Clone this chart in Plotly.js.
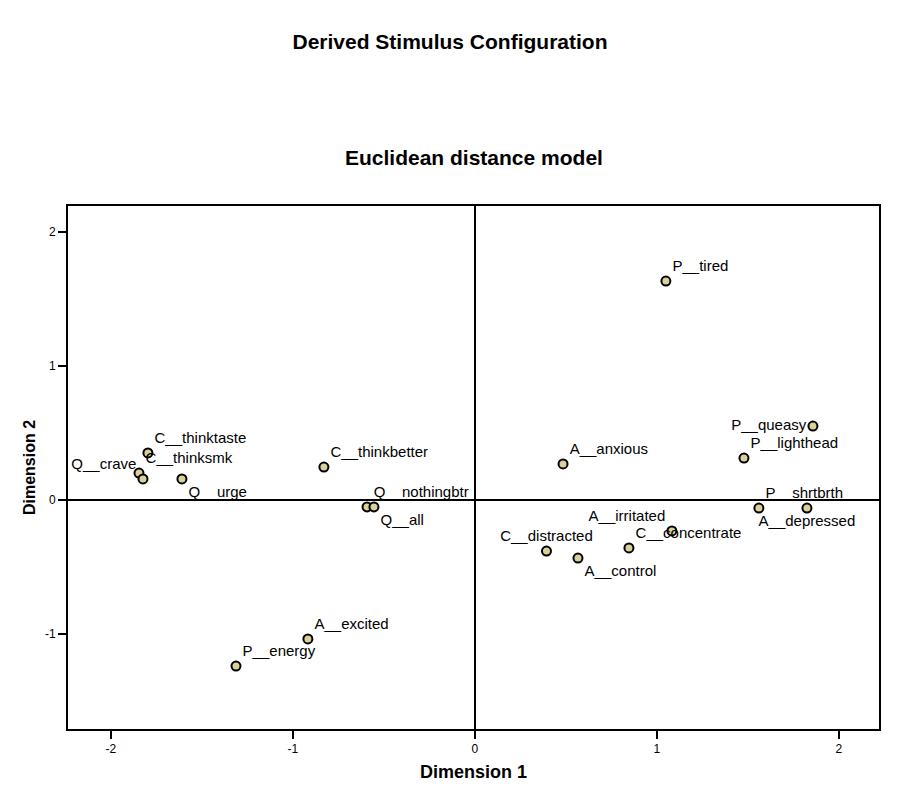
<!DOCTYPE html>
<html>
<head>
<meta charset="utf-8">
<script src="https://cdn.plot.ly/plotly-3.0.1.min.js"></script>
<style>html,body{margin:0;padding:0;background:#fff;}#chart{width:900px;height:792px;}</style>
</head>
<body>
<div id="chart"></div>
<script>
// Stimulus labels and coordinates (Dimension 1, Dimension 2)
var stimuli = ["P__tired","P__queasy","P__lighthead","A__anxious","P__shrtbrth","A__depressed",
  "A__irritated","C__concentrate","C__distracted","A__control","Q__nothingbtr","Q__all",
  "C__thinkbetter","C__thinktaste","C__thinksmk","Q__crave","Q__urge","A__excited","P__energy"];
var dim1 = [1.049, 1.857, 1.478, 0.484, 1.560, 1.824,
  1.082, 0.846, 0.393, 0.566, -0.593, -0.555,
  -0.830, -1.797, -1.846, -1.824, -1.610, -0.918, -1.313];
var dim2 = [1.634, 0.552, 0.313, 0.269, -0.060, -0.060,
  -0.231, -0.358, -0.381, -0.433, -0.052, -0.052,
  0.246, 0.351, 0.201, 0.157, 0.157, -1.037, -1.239];
// label placement relative to each point
var labelPlacement = ["top right","middle left","top right","top right","top right","bottom center",
  "top left","top right","top center","bottom right","top right","bottom right",
  "top right","top right","top right","top left","bottom right","top right","top right"];
var xTicks = [-2, -1, 0, 1, 2];
var yTicks = [-1, 0, 1, 2];

var trace = {
  x: dim1, y: dim2, text: stimuli,
  type: "scatter", mode: "markers+text",
  textposition: labelPlacement,
  textfont: {family: "Liberation Sans, Arial, sans-serif", size: 15, color: "#000"},
  marker: {size: 9, color: "#d9d09a", line: {color: "#000", width: 2}},
  cliponaxis: false, hoverinfo: "none", showlegend: false
};

var layout = {
  width: 900, height: 792,
  paper_bgcolor: "#fff", plot_bgcolor: "#fff",
  margin: {l: 68, r: 21, t: 206, b: 63},
  title: {text: "Derived Stimulus Configuration", x: 0.5, xanchor: "center",
          y: 1 - 42/792, yanchor: "middle", yref: "container",
          font: {family: "Liberation Sans, Arial, sans-serif", size: 21, color: "#000", weight: "bold"}},
  annotations: [{text: "<b>Euclidean distance model</b>", xref: "paper", yref: "paper",
    x: 0.5, y: (729 - 158) / 523, xanchor: "center", yanchor: "middle", showarrow: false,
    font: {family: "Liberation Sans, Arial, sans-serif", size: 21, color: "#000"}}],
  xaxis: {range: [-2.236, 2.22], tickvals: xTicks, ticktext: xTicks.map(String),
    ticks: "outside", ticklen: 8, tickwidth: 1.5, tickcolor: "#000",
    showgrid: false, zeroline: true, zerolinecolor: "#000", zerolinewidth: 2,
    showline: true, linecolor: "#000", linewidth: 2, mirror: true,
    tickfont: {family: "Liberation Sans Narrow, Arial Narrow, sans-serif", size: 12, color: "#000"},
    title: {text: "<b>Dimension 1</b>", standoff: 10,
      font: {family: "Liberation Sans, Arial, sans-serif", size: 18, color: "#000"}}},
  yaxis: {range: [-1.709, 2.194], tickvals: yTicks, ticktext: yTicks.map(String),
    ticks: "outside", ticklen: 8, tickwidth: 1.5, tickcolor: "#000",
    showgrid: false, zeroline: true, zerolinecolor: "#000", zerolinewidth: 2,
    showline: true, linecolor: "#000", linewidth: 2, mirror: true,
    tickfont: {family: "Liberation Sans Narrow, Arial Narrow, sans-serif", size: 12, color: "#000"},
    title: {text: "<b>Dimension 2</b>", standoff: 5,
      font: {family: "Liberation Sans, Arial, sans-serif", size: 16, color: "#000"}}}
};

Plotly.newPlot("chart", [trace], layout, {displayModeBar: false, staticPlot: true});
</script>
</body>
</html>
